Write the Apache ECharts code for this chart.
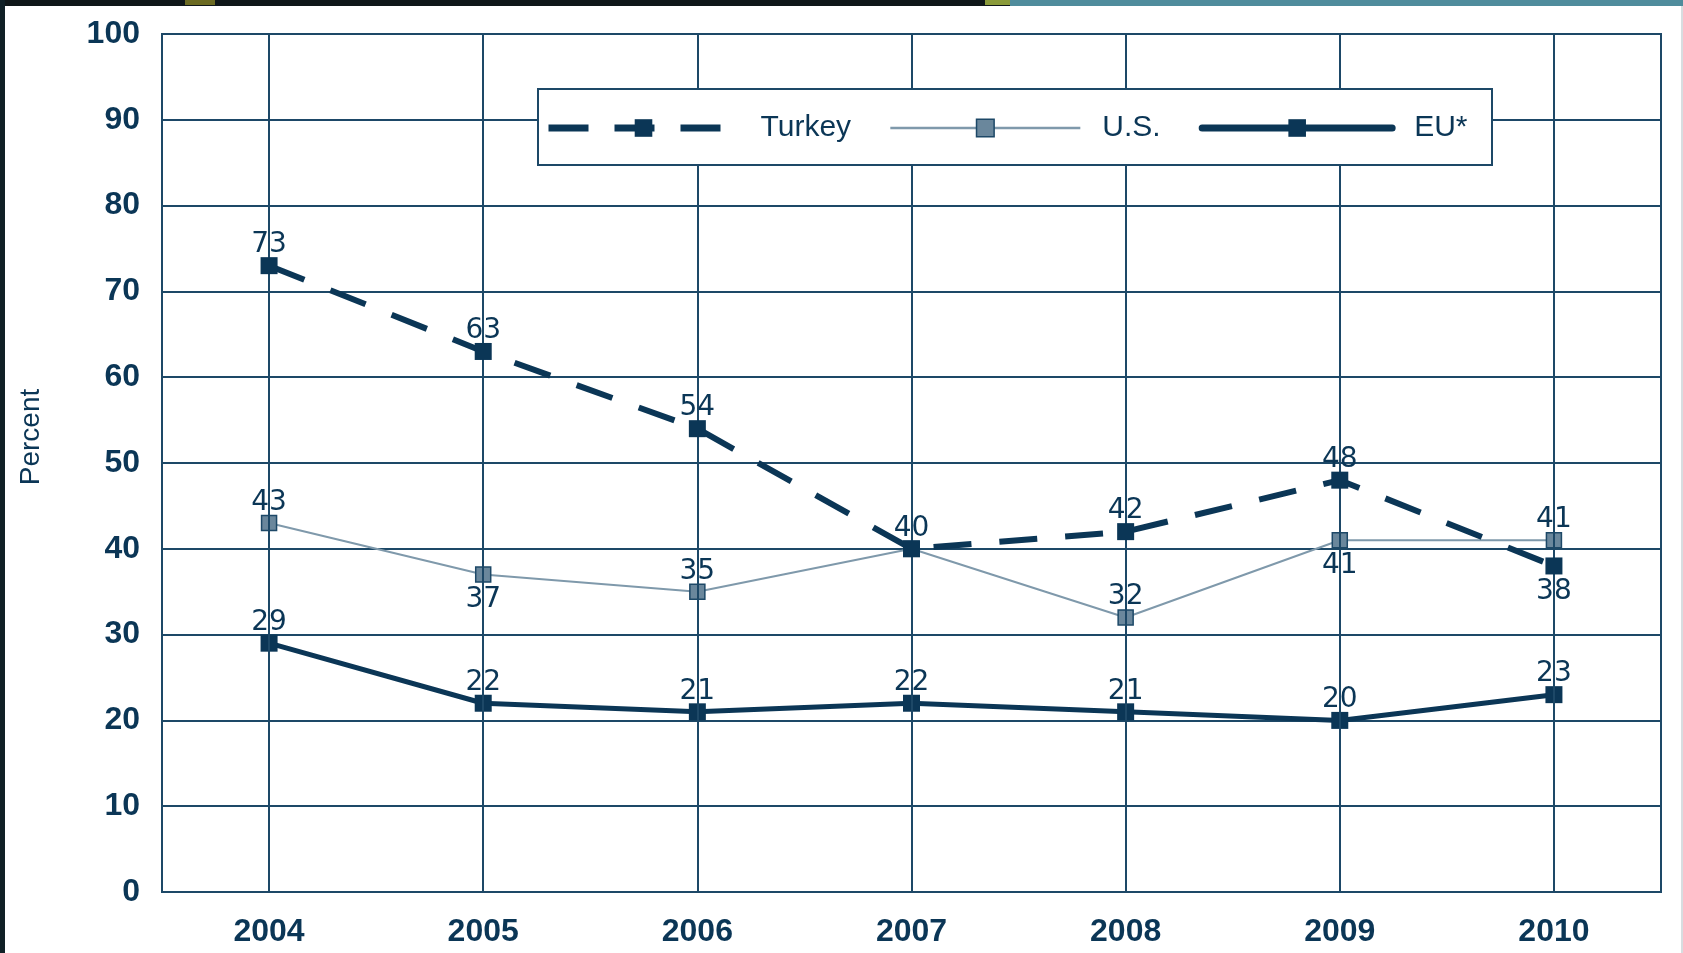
<!DOCTYPE html>
<html>
<head>
<meta charset="utf-8">
<script src="https://cdn.jsdelivr.net/npm/echarts@6/dist/echarts.min.js"></script>
<style>
html,body{margin:0;padding:0;background:#fff;}
#chart{width:1683px;height:953px;}
</style>
</head>
<body>
<div id="chart"></div>
<script>
// ---- data ----
const years = ['2004', '2005', '2006', '2007', '2008', '2009', '2010'];
const turkey = [73, 63, 54, 40, 42, 48, 38];
const us = [43, 37, 35, 40, 32, 41, 41];
const eu = [29, 22, 21, 22, 21, 20, 23];
const yTicks = [0, 10, 20, 30, 40, 50, 60, 70, 80, 90, 100];
const seriesNames = ['Turkey', 'U.S.', 'EU*'];
const yTitle = 'Percent';

// ---- styling ----
const NAVY = '#0b3656';
const GRID = '#1d4867';
const USC = '#6a879c';
const USLINE = '#7f99ab';

// label placement (style, not data)
const turkeyLabelPos = ['top', 'top', 'top', 'top', 'top', 'top', 'bottom'];
const usLabelPos = ['top', 'bottom', 'top', 'none', 'top', 'bottom', 'top'];
const euLabelPos = ['top', 'top', 'top', 'top', 'top', 'top', 'top'];

const labelBase = {
  fontFamily: 'DejaVu Sans',
  fontSize: 28,
  color: NAVY
};
function build(values, pos) {
  return values.map((v, i) => ({
    value: v,
    label: pos[i] === 'none' ? { show: false } :
      Object.assign({ show: true, position: pos[i], distance: pos[i] === 'top' ? -2 : 3 }, labelBase)
  }));
}

const chart = echarts.init(document.getElementById('chart'), null, { renderer: 'canvas' });

const option = {
  animation: false,
  backgroundColor: '#ffffff',
  grid: {
    left: 162, top: 34, right: 22, bottom: 61,
    show: true, borderColor: GRID, borderWidth: 2, backgroundColor: 'transparent'
  },
  xAxis: {
    type: 'category',
    data: years,
    boundaryGap: true,
    axisLine: { show: false },
    axisTick: { show: false },
    splitLine: { show: false },
    axisLabel: {
      margin: 24,
      fontFamily: 'Liberation Sans',
      fontWeight: 'bold',
      fontSize: 32,
      color: NAVY
    }
  },
  yAxis: {
    type: 'value',
    min: yTicks[0],
    max: yTicks[yTicks.length - 1],
    interval: 10,
    axisLine: { show: false },
    axisTick: { show: false },
    splitLine: { show: true, lineStyle: { color: GRID, width: 2 } },
    axisLabel: {
      margin: 22,
      fontFamily: 'Liberation Sans',
      fontWeight: 'bold',
      fontSize: 32,
      color: NAVY,
      padding: [8, 0, 0, 0]
    }
  },
  legend: {
    left: 545,
    top: 113,
    padding: 0,
    itemWidth: 190,
    itemHeight: 22,
    itemGap: 38,
    z: 20,
    textStyle: {
      fontFamily: 'Liberation Sans',
      fontSize: 30,
      color: NAVY,
      padding: [0, 0, 0, 17]
    },
    data: [
      { name: seriesNames[0],
        lineStyle: { width: 7, type: [40, 26], color: NAVY, cap: 'butt' },
        itemStyle: { color: NAVY } },
      { name: seriesNames[1],
        lineStyle: { width: 2.5, color: USLINE },
        itemStyle: { color: USC, borderColor: GRID, borderWidth: 1.5 } },
      { name: seriesNames[2],
        lineStyle: { width: 7, color: NAVY, cap: 'round' },
        itemStyle: { color: NAVY } }
    ]
  },
  graphic: [
    { type: 'rect', z: 10, shape: { x: 538, y: 89, width: 954, height: 76 },
      style: { fill: '#ffffff', stroke: GRID, lineWidth: 2 } },
    { type: 'text', z: 10, x: 31, y: 437, rotation: Math.PI / 2,
      style: { text: yTitle, fontFamily: 'Liberation Sans', fontSize: 28, fill: NAVY,
               align: 'center', verticalAlign: 'middle' } },
    // photo frame edges
    { type: 'rect', z: 30, shape: { x: 0, y: 0, width: 1683, height: 6 }, style: { fill: '#0f1719' } },
    { type: 'rect', z: 31, shape: { x: 1010, y: 0, width: 673, height: 6 }, style: { fill: '#4f8c9c' } },
    { type: 'rect', z: 31, shape: { x: 185, y: 0, width: 30, height: 5 }, style: { fill: '#6b6a22' } },
    { type: 'rect', z: 31, shape: { x: 985, y: 0, width: 25, height: 5 }, style: { fill: '#8a9a3a' } },
    { type: 'rect', z: 30, shape: { x: 0, y: 0, width: 5, height: 953 }, style: { fill: '#102026' } },
    { type: 'rect', z: 30, shape: { x: 1681, y: 0, width: 2, height: 953 }, style: { fill: '#d8dde0' } }
  ],
  series: [
    {
      name: 'gridX',
      type: 'line',
      data: [],
      z: 1,
      silent: true,
      markLine: {
        silent: true,
        symbol: ['none', 'none'],
        label: { show: false },
        lineStyle: { color: GRID, width: 2, type: 'solid' },
        data: years.map(y => ({ xAxis: y }))
      }
    },
    {
      name: seriesNames[1],
      type: 'line',
      z: 3,
      data: build(us, usLabelPos),
      symbol: 'rect',
      symbolSize: 15,
      lineStyle: { color: USLINE, width: 2 },
      itemStyle: { color: USC, borderColor: GRID, borderWidth: 1.5 }
    },
    {
      name: seriesNames[2],
      type: 'line',
      z: 4,
      data: build(eu, euLabelPos),
      symbol: 'rect',
      symbolSize: 17,
      lineStyle: { color: NAVY, width: 5 },
      itemStyle: { color: NAVY }
    },
    {
      name: seriesNames[0],
      type: 'line',
      z: 5,
      data: build(turkey, turkeyLabelPos),
      symbol: 'rect',
      symbolSize: 17,
      lineStyle: { color: NAVY, width: 6, type: [38, 28], cap: 'butt' },
      itemStyle: { color: NAVY }
    }
  ]
};
chart.setOption(option);
</script>
</body>
</html>
